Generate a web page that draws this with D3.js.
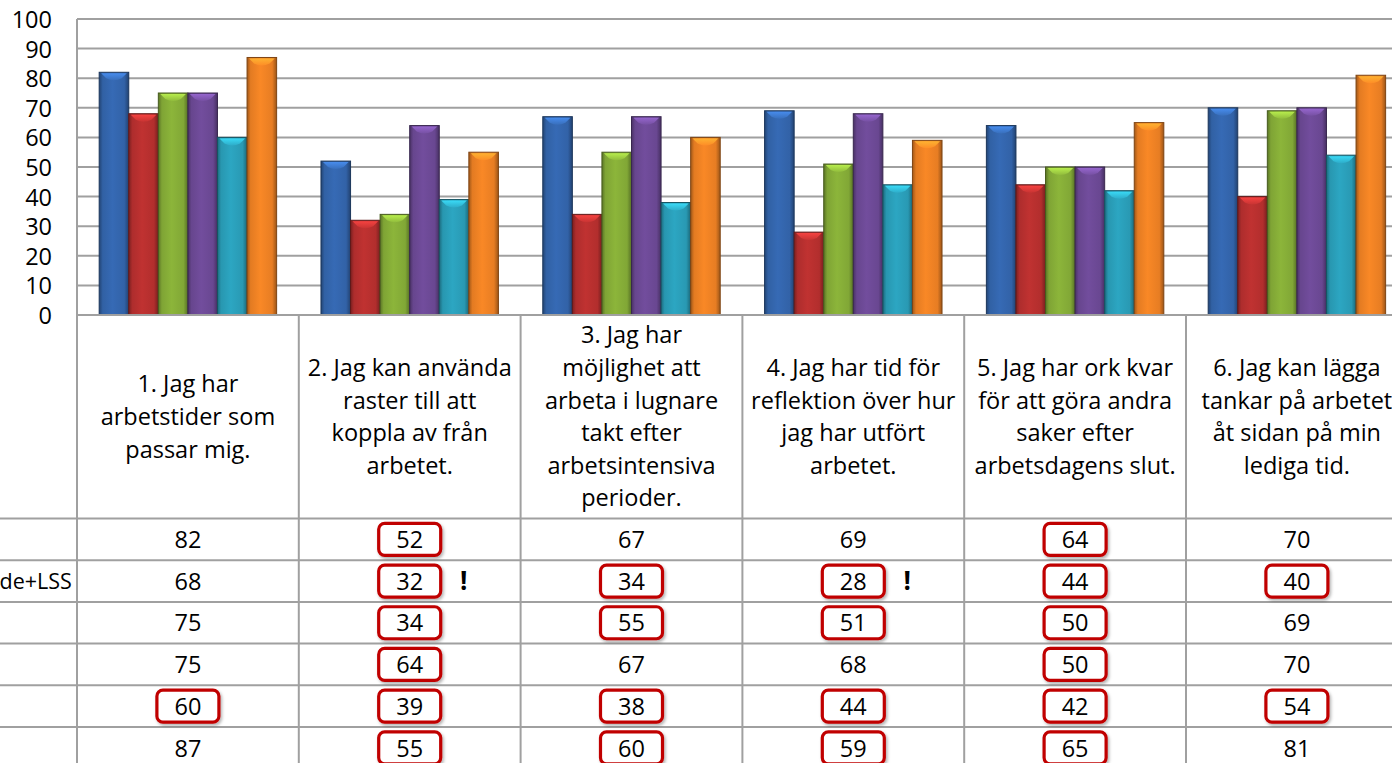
<!DOCTYPE html>
<html>
<head>
<meta charset="utf-8">
<script src="https://cdn.jsdelivr.net/npm/d3@7"></script>
<style>
  html, body { margin: 0; padding: 0; background: #fff; overflow: hidden; }
  svg { display: block; font-family: "Open Sans", "Noto Sans", sans-serif; }
</style>
</head>
<body>
<svg id="chart" width="1392" height="763"></svg>
<script>
// ---------- data ----------
const categories = [
  ["1. Jag har", "arbetstider som", "passar mig."],
  ["2. Jag kan använda", "raster till att", "koppla av från", "arbetet."],
  ["3. Jag har", "möjlighet att", "arbeta i lugnare", "takt efter", "arbetsintensiva", "perioder."],
  ["4. Jag har tid för", "reflektion över hur", "jag har utfört", "arbetet."],
  ["5. Jag har ork kvar", "för att göra andra", "saker efter", "arbetsdagens slut."],
  ["6. Jag kan lägga", "tankar på arbetet", "åt sidan på min", "lediga tid."]
];
const seriesNames = [
  "Kommunen totalt",
  "Vård och omsorg, funktionshinde+LSS",
  "Vård och omsorg, äldre",
  "Barn och utbildning",
  "Individ och familj",
  "Kultur och fritid"
];
const visibleLabelPart = "de+LSS";
const series1 = [82, 52, 67, 69, 64, 70];
const series2 = [68, 32, 34, 28, 44, 40];
const series3 = [75, 34, 55, 51, 50, 69];
const series4 = [75, 64, 67, 68, 50, 70];
const series5 = [60, 39, 38, 44, 42, 54];
const series6 = [87, 55, 60, 59, 65, 81];
const seriesValues = [series1, series2, series3, series4, series5, series6];
// highlighted (red box) cells per series, by category
const boxed1 = [false, true, false, false, true, false];
const boxed2 = [false, true, true, true, true, true];
const boxed3 = [false, true, true, true, true, false];
const boxed4 = [false, true, false, false, true, false];
const boxed5 = [true, true, true, true, true, true];
const boxed6 = [false, true, true, true, true, false];
const boxedCells = [boxed1, boxed2, boxed3, boxed4, boxed5, boxed6];
// exclamation marks: [series index, category index]
const exclamations = [[1, 1], [1, 3]];
const yTicks = [0, 10, 20, 30, 40, 50, 60, 70, 80, 90, 100];
const colors = ["#3466ad", "#b8302f", "#86ad38", "#6d4a96", "#2a9fba", "#ef8224"];

// ---------- layout ----------
const svg = d3.select("#chart");
const W = 1392, H = 763;
const plotLeft = 77, plotTop = 19, plotBottom = 315;
const catW = 221.8;
const headerBottom = 518.5;
const rowH = 41.7;
const gridColor = "#a0a0a0";
const FS = 23.5;
const LABEL_FS = 21.5;

const x = d3.scaleBand()
  .domain(d3.range(categories.length))
  .range([plotLeft, plotLeft + catW * categories.length])
  .paddingInner(0).paddingOuter(0);
const xInner = d3.scaleBand()
  .domain(d3.range(seriesValues.length))
  .range([0, x.bandwidth()])
  .paddingInner(0)
  .paddingOuter(0.75);
const y = d3.scaleLinear().domain([0, 100]).range([plotBottom, plotTop]);

// defs: gradients
const defs = svg.append("defs");
function shade(c, k) { return d3.color(c).darker(k).formatHex(); }
function tint(c, k) { return d3.color(c).brighter(k).formatHex(); }
colors.forEach((c, i) => {
  const g = defs.append("linearGradient").attr("id", "g" + i)
    .attr("x1", 0).attr("x2", 1).attr("y1", 0).attr("y2", 0);
  g.append("stop").attr("offset", "0%").attr("stop-color", shade(c, 1.1));
  g.append("stop").attr("offset", "12%").attr("stop-color", shade(c, 0.15));
  g.append("stop").attr("offset", "45%").attr("stop-color", tint(c, 0.12));
  g.append("stop").attr("offset", "85%").attr("stop-color", shade(c, 0.1));
  g.append("stop").attr("offset", "100%").attr("stop-color", shade(c, 1.2));
  const v = defs.append("linearGradient").attr("id", "cap" + i)
    .attr("x1", 0).attr("x2", 0).attr("y1", 0).attr("y2", 1);
  v.append("stop").attr("offset", "0%").attr("stop-color", tint(c, 1.0));
  v.append("stop").attr("offset", "100%").attr("stop-color", tint(c, 0.25));
});
const f = defs.append("filter").attr("id", "shadow").attr("x", "-20%").attr("y", "-30%")
  .attr("width", "150%").attr("height", "170%");
f.append("feDropShadow").attr("dx", 1.5).attr("dy", 2).attr("stdDeviation", 1.5)
  .attr("flood-color", "#000").attr("flood-opacity", 0.3);

// ---------- gridlines & y axis ----------
const grid = svg.append("g");
grid.selectAll("line.h").data(yTicks).join("line")
  .attr("x1", plotLeft).attr("x2", W)
  .attr("y1", d => y(d)).attr("y2", d => y(d))
  .attr("stroke", gridColor).attr("stroke-width", 2);

const yAxis = d3.axisLeft(y).tickValues(yTicks).tickSize(0).tickPadding(0);
const ya = svg.append("g").attr("transform", "translate(52,0)").call(yAxis);
ya.select(".domain").remove();
ya.attr("font-family", null).attr("font-size", null);
ya.selectAll("text").attr("x", 0).attr("text-anchor", "end")
  .attr("font-size", FS).attr("fill", "#000").attr("dy", "0.36em");

// ---------- bars ----------
const bars = svg.append("g");
seriesValues.forEach((vals, si) => {
  const g = bars.append("g");
  g.selectAll("rect").data(vals).join("rect")
    .attr("x", (d, ci) => x(ci) + xInner(si))
    .attr("y", d => y(d))
    .attr("width", xInner.bandwidth())
    .attr("height", d => plotBottom - y(d))
    .attr("fill", `url(#g${si})`)
    .attr("stroke", shade(colors[si], 1.8)).attr("stroke-width", 1);
  g.selectAll("path").data(vals).join("path")
    .attr("d", (d, ci) => {
      const x0 = x(ci) + xInner(si), w = xInner.bandwidth(), y0 = y(d);
      return `M${x0 + 2},${y0 + 1} L${x0 + w - 2},${y0 + 1} L${x0 + w - 7},${y0 + 6} Q${x0 + w / 2},${y0 + 10} ${x0 + 7},${y0 + 6} Z`;
    })
    .attr("fill", `url(#cap${si})`).attr("opacity", 0.85);
});

// ---------- table ----------
const table = svg.append("g");
table.append("line").attr("x1", plotLeft).attr("x2", W)
  .attr("y1", plotBottom).attr("y2", plotBottom)
  .attr("stroke", gridColor).attr("stroke-width", 2);
table.append("line").attr("x1", plotLeft).attr("x2", plotLeft)
  .attr("y1", plotTop).attr("y2", H)
  .attr("stroke", gridColor).attr("stroke-width", 2);
table.selectAll("line.v").data(d3.range(1, categories.length + 1)).join("line")
  .attr("x1", d => x(0) + catW * d).attr("x2", d => x(0) + catW * d)
  .attr("y1", plotBottom).attr("y2", H)
  .attr("stroke", gridColor).attr("stroke-width", 2);
table.selectAll("line.r").data(d3.range(seriesValues.length)).join("line")
  .attr("x1", 0).attr("x2", W)
  .attr("y1", d => headerBottom + rowH * d).attr("y2", d => headerBottom + rowH * d)
  .attr("stroke", gridColor).attr("stroke-width", 2);

// category headers
const headerMid = (plotBottom + headerBottom) / 2;
const lineH = 32.6;
categories.forEach((lines, ci) => {
  const cx = x(ci) + x.bandwidth() / 2;
  const t = table.append("text").attr("text-anchor", "middle")
    .attr("font-size", FS).attr("fill", "#000");
  lines.forEach((ln, li) => {
    t.append("tspan").attr("x", cx)
      .attr("y", headerMid + (li - (lines.length - 1) / 2) * lineH)
      .attr("dy", "0.35em").text(ln);
  });
});

// row labels (mostly off-canvas on the left, as in the cropped original)
const fullLabel = seriesNames[1];
const prefix = fullLabel.slice(0, fullLabel.length - visibleLabelPart.length);
const probe = svg.append("text").attr("font-size", LABEL_FS).text(prefix);
const labelStart = -probe.node().getComputedTextLength() - 0.5;
probe.remove();
seriesNames.forEach((nm, si) => {
  const cy = headerBottom + rowH * (si + 0.5);
  table.append("rect").attr("x", labelStart - 18).attr("y", cy - 5)
    .attr("width", 10).attr("height", 10).attr("fill", colors[si]);
  table.append("text").attr("x", labelStart).attr("y", cy).attr("dy", "0.36em")
    .attr("font-size", LABEL_FS).attr("fill", "#000").text(nm);
});

// values + boxes
seriesValues.forEach((vals, si) => {
  vals.forEach((v, ci) => {
    const cx = x(ci) + x.bandwidth() / 2;
    const cy = headerBottom + rowH * (si + 0.5);
    if (boxedCells[si][ci]) {
      table.append("rect").attr("x", cx - 31).attr("y", cy - 16)
        .attr("width", 62).attr("height", 32).attr("rx", 6)
        .attr("fill", "#fff").attr("stroke", "#c00000").attr("stroke-width", 3.2)
        .attr("filter", "url(#shadow)");
    }
    table.append("text").attr("x", cx).attr("y", cy).attr("dy", "0.37em")
      .attr("text-anchor", "middle").attr("font-size", FS).attr("fill", "#000")
      .text(v);
  });
});

exclamations.forEach(([si, ci]) => {
  const cx = x(ci) + x.bandwidth() / 2 + 54;
  const cy = headerBottom + rowH * (si + 0.5);
  table.append("text").attr("x", cx).attr("y", cy).attr("dy", "0.36em")
    .attr("text-anchor", "middle").attr("font-size", 26).attr("font-weight", "bold")
    .attr("fill", "#000").text("!");
});
</script>
</body>
</html>
